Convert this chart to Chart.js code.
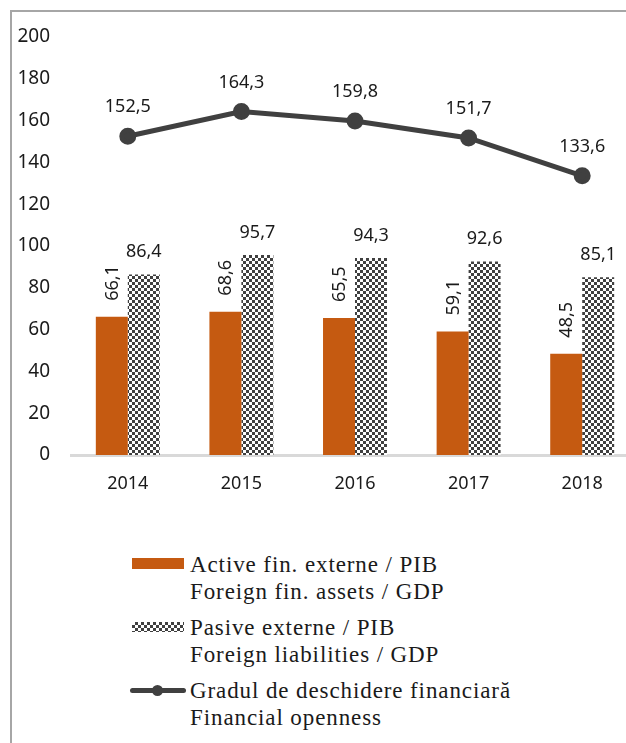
<!DOCTYPE html>
<html>
<head>
<meta charset="utf-8">
<script src="https://cdn.jsdelivr.net/npm/chart.js@4"></script>
<style>
  html, body { margin: 0; padding: 0; background: #fff; overflow: hidden; }
  body { width: 626px; height: 743px; position: relative; }
  .frame { position: absolute; left: 10px; top: 10px; width: 640px; height: 760px;
           border-top: 2px solid #a6a6a6; border-left: 2px solid #a6a6a6; box-sizing: border-box; }
  .chart-wrap { position: absolute; left: 0; top: 0; width: 650px; height: 500px; }
  .legend { position: absolute; left: 0; top: 0; font-family: "Liberation Serif", serif;
            font-size: 23px; letter-spacing: 0.9px; color: #1a1a1a; }
  .item { position: absolute; left: 190px; line-height: 27px; white-space: nowrap; }
  .sw { position: absolute; }
</style>
</head>
<body>
<div class="frame"></div>
<div class="chart-wrap"><canvas id="chart"></canvas></div>
<div class="legend" id="legend"></div>
<script>
// --- データ ---
const years = ['2014', '2015', '2016', '2017', '2018'];
const assets = [66.1, 68.6, 65.5, 59.1, 48.5];
const liabilities = [86.4, 95.7, 94.3, 92.6, 85.1];
const openness = [152.5, 164.3, 159.8, 151.7, 133.6];
const yTicks = [0, 20, 40, 60, 80, 100, 120, 140, 160, 180, 200];

const legendLabels = [
    ['Active fin. externe / PIB', 'Foreign fin. assets / GDP'],
    ['Pasive externe / PIB', 'Foreign liabilities / GDP'],
    ['Gradul de deschidere financiară', 'Financial openness']
];

// --- 色 ---
const orange = '#c55a11';
const dark = '#404040';
const labelFont = '18px "Noto Sans", sans-serif';

// 市松模様パターン
function checker() {
    const c = document.createElement('canvas');
    c.width = 6; c.height = 6;
    const g = c.getContext('2d');
    g.fillStyle = '#fff';
    g.fillRect(0, 0, 6, 6);
    g.fillStyle = dark;
    g.fillRect(0, 0, 3, 3);
    g.fillRect(3, 3, 3, 3);
    return g.createPattern(c, 'repeat');
}

const fmt = v => v.toFixed(1).replace('.', ',');

// データラベル描画
const valueLabels = {
    id: 'valueLabels',
    afterDatasetsDraw(chart) {
        const ctx = chart.ctx;
        ctx.save();
        ctx.font = labelFont;
        ctx.fillStyle = '#1a1a1a';
        chart.getDatasetMeta(0).data.forEach((bar, i) => {
            ctx.save();
            ctx.translate(bar.x + 6, bar.y - 16);
            ctx.rotate(-Math.PI / 2);
            ctx.textAlign = 'left';
            ctx.textBaseline = 'alphabetic';
            ctx.fillText(fmt(assets[i]), 0, 0);
            ctx.restore();
        });
        ctx.textAlign = 'center';
        ctx.textBaseline = 'alphabetic';
        chart.getDatasetMeta(1).data.forEach((bar, i) => {
            ctx.fillText(fmt(liabilities[i]), bar.x, bar.y - 17);
        });
        chart.getDatasetMeta(2).data.forEach((pt, i) => {
            ctx.fillText(fmt(openness[i]), pt.x, pt.y - 24);
        });
        ctx.restore();
    }
};

new Chart(document.getElementById('chart'), {
    data: {
        labels: years,
        datasets: [
            { type: 'bar', label: legendLabels[0][0], data: assets, backgroundColor: orange,
              categoryPercentage: 0.563, barPercentage: 1, order: 2 },
            { type: 'bar', label: legendLabels[1][0], data: liabilities, backgroundColor: checker(),
              categoryPercentage: 0.563, barPercentage: 1, order: 2 },
            { type: 'line', label: legendLabels[2][0], data: openness, borderColor: dark, borderWidth: 5,
              pointRadius: 6, pointBackgroundColor: dark, pointBorderColor: dark, fill: false, order: 1 }
        ]
    },
    options: {
        responsive: true,
        maintainAspectRatio: false,
        animation: false,
        layout: { padding: { top: 37, right: 11, left: 0, bottom: 0 } },
        plugins: { legend: { display: false }, tooltip: { enabled: false } },
        scales: {
            x: {
                grid: { display: false, drawTicks: false },
                border: { display: true, color: '#d9d9d9', width: 3 },
                ticks: { color: '#1a1a1a', font: { family: 'Noto Sans', size: 18 }, padding: 18 },
                afterFit: s => { s.height = 45; }
            },
            y: {
                min: 0, max: 200,
                afterBuildTicks: s => { s.ticks = yTicks.map(v => ({ value: v })); },
                grid: { display: false, drawTicks: false },
                border: { display: false },
                ticks: { color: '#1a1a1a', font: { family: 'Noto Sans', size: 19 }, padding: 21 },
                afterFit: s => { s.width = 71; }
            }
        }
    },
    plugins: [valueLabels]
});

// --- 凡例 (HTML) ---
const legendEl = document.getElementById('legend');
const itemTops = [551, 614, 677];
legendLabels.forEach((lines, i) => {
    const top = itemTops[i];
    const item = document.createElement('div');
    item.className = 'item';
    item.style.top = top + 'px';
    item.innerHTML = lines.join('<br>');
    legendEl.appendChild(item);

    const sw = document.createElement('div');
    sw.className = 'sw';
    if (i === 0) {
        Object.assign(sw.style, { left: '132px', top: (top + 7) + 'px', width: '52px', height: '11px', background: orange });
    } else if (i === 1) {
        Object.assign(sw.style, { left: '132px', top: (top + 8) + 'px', width: '52px', height: '10px',
            background: 'repeating-conic-gradient(#404040 0 25%, #fff 0 50%) 0 0 / 6px 6px' });
    } else {
        Object.assign(sw.style, { left: '130px', top: (top + 11) + 'px', width: '56px', height: '5px',
            background: dark, borderRadius: '3px' });
        const dot = document.createElement('div');
        Object.assign(dot.style, { position: 'absolute', left: '22px', top: '-3px', width: '11px', height: '11px',
            borderRadius: '50%', background: dark });
        sw.appendChild(dot);
    }
    legendEl.appendChild(sw);
});
</script>
</body>
</html>
